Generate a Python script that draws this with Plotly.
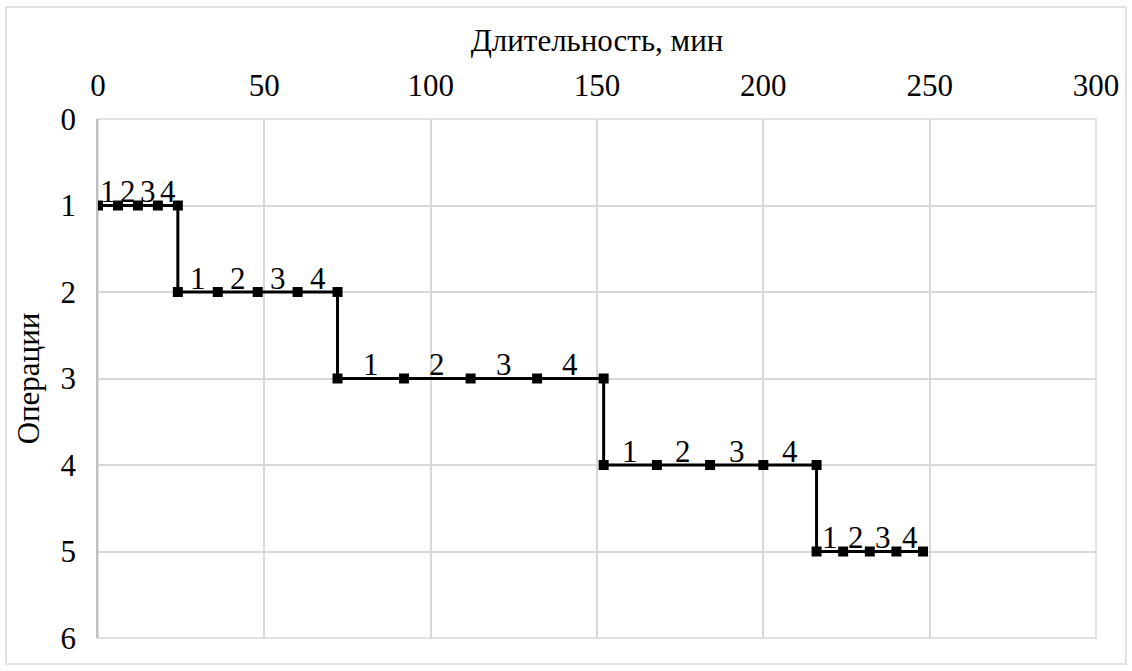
import plotly.graph_objects as go

# Data: time points (minutes) for each operation's four transfer batches
operations = [1, 2, 3, 4, 5]
op_times = [
    [0, 6, 12, 18, 24],
    [24, 36, 48, 60, 72],
    [72, 92, 112, 132, 152],
    [152, 168, 184, 200, 216],
    [216, 224, 232, 240, 248],
]
batch_labels = ["1", "2", "3", "4"]

x_tick_vals = [0, 50, 100, 150, 200, 250, 300]
y_tick_vals = [0, 1, 2, 3, 4, 5, 6]

FONT = "Liberation Serif, Times New Roman, serif"
GRID = "#d9d9d9"
FS = 31

xs, ys = [], []
for op, times in zip(operations, op_times):
    for t in times:
        xs.append(t)
        ys.append(op)

fig = go.Figure()
fig.add_trace(go.Scatter(
    x=xs, y=ys, mode="lines+markers",
    line=dict(color="black", width=3),
    marker=dict(symbol="square", size=10, color="black"),
    hoverinfo="skip", showlegend=False,
))

for op, times in zip(operations, op_times):
    for i, lab in enumerate(batch_labels):
        fig.add_annotation(
            x=(times[i] + times[i + 1]) / 2, y=op, text=lab,
            showarrow=False, xanchor="center", yanchor="middle", yshift=14,
            font=dict(family=FONT, size=FS, color="black"),
        )

# outer chart border
fig.add_shape(type="rect", xref="paper", yref="paper",
              x0=-0.0922, x1=1.030, y0=-0.050, y1=1.216,
              line=dict(color="#d9d9d9", width=1.5), layer="below")
# plot area frame (edge gridlines)
fig.add_shape(type="rect", xref="paper", yref="paper",
              x0=0, x1=1, y0=0, y1=1,
              line=dict(color=GRID, width=1.5), layer="below")

fig.update_layout(
    width=1132, height=671,
    margin=dict(l=98, r=36, t=119, b=33),
    paper_bgcolor="white", plot_bgcolor="white",
    font=dict(family=FONT, size=FS, color="black"),
)
fig.update_xaxes(
    side="top", range=[0, 300], tickvals=x_tick_vals,
    showgrid=True, gridcolor=GRID, gridwidth=1.5,
    zeroline=False, showline=False, ticks="",
    ticklabelstandoff=16,
    title=dict(text="Длительность, мин", font=dict(size=FS), standoff=6),
)
fig.update_yaxes(
    range=[6, 0], tickvals=y_tick_vals,
    showgrid=True, gridcolor=GRID, gridwidth=1.5,
    zeroline=False, showline=True, linecolor="#bfbfbf", linewidth=1.5,
    mirror=False, ticks="", ticklabelstandoff=14,
    title=dict(text="Операции", font=dict(size=FS), standoff=12),
)

fig.write_html("out.html", config={"displayModeBar": False},
               post_script="document.body.style.margin='0';")
